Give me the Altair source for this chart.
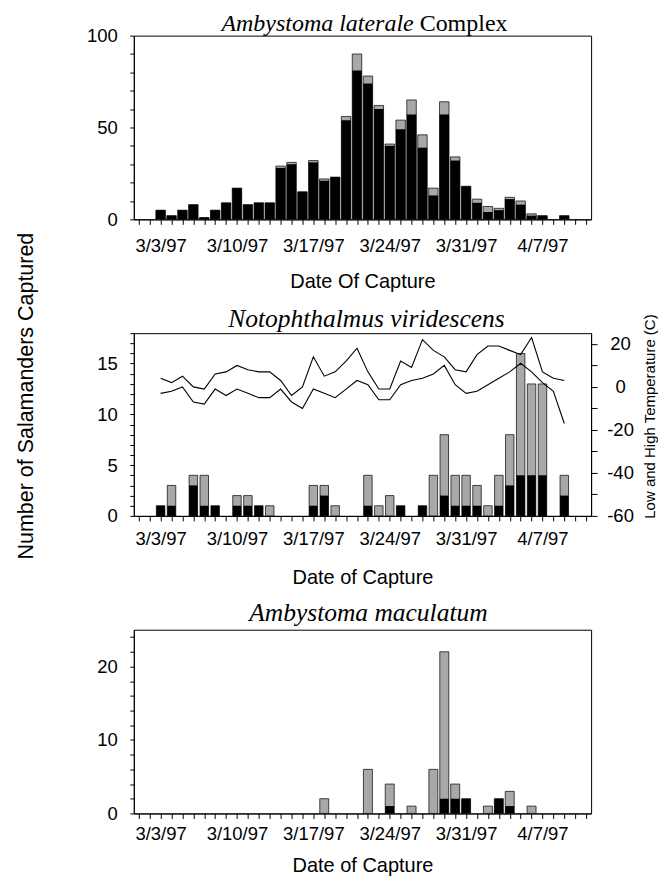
import json
import altair as alt
import pandas as pd

# ---------------- data ----------------
dates = [d.strftime("%Y-%m-%d") for d in pd.date_range("1997-03-03", "1997-04-09", freq="D")]
axis_days = list(pd.date_range("1997-03-01", "1997-04-11", freq="D"))
week_labels = ["3/3/97", "3/10/97", "3/17/97", "3/24/97", "3/31/97", "4/7/97"]

# Ambystoma laterale complex (total, and black = lower part)
lat_total = [5, 2, 5, 8, 1, 5, 9, 17, 8, 9, 9, 29, 31, 15, 32, 22, 23, 56, 90, 78, 62, 41,
             54, 65, 46, 17, 64, 34, 18, 11, 7, 6, 12, 10, 3, 2, 0, 2]
lat_black = [5, 2, 5, 8, 1, 5, 9, 17, 8, 9, 9, 28, 30, 15, 31, 21, 23, 54, 81, 74, 60, 40,
             49, 57, 39, 13, 57, 32, 18, 9, 4, 5, 11, 8, 2, 2, 0, 2]

# Notophthalmus viridescens
viri_total = [1, 3, 0, 4, 4, 1, 0, 2, 2, 1, 1, 0, 0, 0, 3, 3, 1, 0, 0, 4,
              1, 2, 1, 0, 1, 4, 8, 4, 4, 3, 1, 4, 8, 16, 13, 13, 0, 4]
viri_black = [1, 1, 0, 3, 1, 1, 0, 1, 1, 1, 0, 0, 0, 0, 1, 2, 0, 0, 0, 1,
              0, 0, 1, 0, 1, 0, 2, 1, 1, 1, 0, 1, 3, 4, 4, 4, 0, 2]

# daily high / low temperature (C)
temp_high = [4, 2, 5, 0, -1, 6, 7, 10, 8, 7, 7, 3, -4, 0, 14, 5, 7, 12, 18, 7,
             -1, -1, 12, 9, 22, 17, 14, 8, 7, 15, 19, 19, 17, 15, 23, 7, 4, 3]
temp_low = [-3, -2, 0, -7, -8, -1, -4, -1, -3, -5, -5, -1, -7, -10, -1, -3, -5, -1, 3, 1,
            -6, -6, 1, 3, 4, 6, 10, 1, -3, -2, 1, 4, 7, 11, 7, 2, -2, -17]

# Ambystoma maculatum
mac_total = [0, 0, 0, 0, 0, 0, 0, 0, 0, 0, 0, 0, 0, 0, 0, 2, 0, 0, 0, 6,
             0, 4, 0, 1, 0, 6, 22, 4, 2, 0, 1, 2, 3, 0, 1, 0, 0, 0]
mac_black = [0, 0, 0, 0, 0, 0, 0, 0, 0, 0, 0, 0, 0, 0, 0, 0, 0, 0, 0, 0,
             0, 1, 0, 0, 0, 0, 2, 2, 2, 0, 0, 2, 1, 0, 0, 0, 0, 0]


def to_ms(d):
    return int(pd.Timestamp(d).tz_localize("UTC").timestamp() * 1000)


tick_ms = [to_ms(d) for d in axis_days]
x_domain = [tick_ms[0], tick_ms[-1]]

SANS = "Liberation Sans"
SERIF = "Liberation Serif"
GRAY = "#a8a8a8"
W = 458

FMT = "utcFormat(datum.value, '%-m/%-d/%y')"
LX = "indexof(" + json.dumps(week_labels) + ", " + FMT + ") >= 0 ? " + FMT + " : ''"


def x_enc(title, label_pad, title_y):
    return alt.X(
        "date:T",
        scale=alt.Scale(type="utc", domain=x_domain, nice=False),
        axis=alt.Axis(
            values=tick_ms, labelExpr=LX, labelOverlap=False, labelFlush=False,
            labelFont=SANS, labelFontSize=18.5, labelColor="black",
            labelBaseline="alphabetic", labelPadding=label_pad,
            tickSize=5, tickColor="black", tickWidth=1,
            domainColor="black", domainWidth=1, grid=False,
            title=title, titleFont=SANS, titleFontSize=20, titleFontWeight="normal",
            titleColor="black", titleY=title_y, titleBaseline="alphabetic",
        ),
    )


def y_enc(field, dmax, step, label_step):
    return alt.Y(
        field + ":Q",
        scale=alt.Scale(domain=[0, dmax], nice=False),
        axis=alt.Axis(
            orient="left", values=list(range(0, dmax + 1, step)),
            labelExpr="datum.value % " + str(label_step) + " == 0 ? '' + datum.value : ''",
            labelFont=SANS, labelFontSize=18.5, labelColor="black", labelPadding=12.5,
            labelOverlap=False, labelFlush=False,
            tickSize=4, tickColor="black", domainColor="black", grid=False, title=None,
        ),
    )


def bar_layers(total, black, dmax, step, label_step, bw, xt, lp, ty):
    df = pd.DataFrame({"date": dates, "total": total, "black": black})
    base = alt.Chart(df)
    gray = base.transform_filter("datum.total > 0").mark_bar(
        width=bw, color=GRAY, stroke="black", strokeWidth=0.7
    ).encode(x=x_enc(xt, lp, ty), y=y_enc("total", dmax, step, label_step))
    blk = base.transform_filter("datum.black > 0").mark_bar(
        width=bw, color="black"
    ).encode(x=x_enc(xt, lp, ty), y=y_enc("black", dmax, step, label_step))
    return alt.layer(gray, blk)


def text_layer(txt, x, y, size, font, style="normal", align="center", angle=0, baseline="alphabetic"):
    return alt.Chart(pd.DataFrame({"t": [txt]})).mark_text(
        font=font, fontSize=size, fontStyle=style, align=align, baseline=baseline,
        angle=angle, color="black",
    ).encode(text="t:N", x=alt.value(x), y=alt.value(y))


# ---------------- top panel ----------------
top = alt.layer(
    bar_layers(lat_total, lat_black, 100, 10, 50, 9.5, "Date Of Capture", 27.7, 68.5),
    text_layer("Ambystoma laterale", 280.3, -5, 24, SERIF, "italic", "right"),
    text_layer("Complex", 286.3, -5, 24, SERIF, "normal", "left"),
).properties(width=W, height=184)

# ---------------- middle panel ----------------
tdf = pd.DataFrame({"date": dates, "High": temp_high, "Low": temp_low})
lines = alt.Chart(tdf).transform_fold(["High", "Low"], as_=["kind", "temp"]).mark_line(
    color="black", strokeWidth=1.1
).encode(
    x=x_enc("Date of Capture", 23.3, 67.5),
    y=alt.Y(
        "temp:Q",
        scale=alt.Scale(domain=[-60, 25], nice=False, zero=False),
        axis=alt.Axis(
            orient="right", values=list(range(-60, 21, 10)),
            labelExpr="datum.value % 20 == 0 ? '' + datum.value : ''",
            labelFont=SANS, labelFontSize=18.5, labelColor="black",
            labelAlign="center", labelPadding=23, labelOverlap=False, labelFlush=False,
            tickSize=6, tickColor="black", domainColor="black", grid=False,
            title="Low and High Temperature (C)", titleFont=SANS, titleFontSize=15,
            titleFontWeight="normal", titleColor="black", titleAngle=270,
            titleX=58, titleY=83, titleAlign="center", titleBaseline="middle",
        ),
    ),
    detail="kind:N",
)

mid = alt.layer(
    bar_layers(viri_total, viri_black, 18, 1, 5, 8.5, "Date of Capture", 23.3, 67.5),
    lines,
    text_layer("Notophthalmus viridescens", 233, -6.3, 25.5, SERIF, "italic"),
    text_layer("Number of Salamanders Captured", -106.7, 63, 21.5, SANS, angle=270, baseline="middle"),
).resolve_scale(y="independent").properties(width=W, height=183)

# ---------------- bottom panel ----------------
bot = alt.layer(
    bar_layers(mac_total, mac_black, 25, 2, 10, 9, "Date of Capture", 21, 58.5),
    text_layer("Ambystoma maculatum", 235, -9, 25.5, SERIF, "italic"),
).properties(width=W, height=184)

chart = alt.vconcat(top, mid, bot, spacing=114, bounds="flush").properties(
    padding={"left": 7, "top": 2, "right": 0, "bottom": 0}
).configure_view(stroke="black", strokeWidth=1)

chart.save("out.html", embed_options={"renderer": "svg", "actions": False})
